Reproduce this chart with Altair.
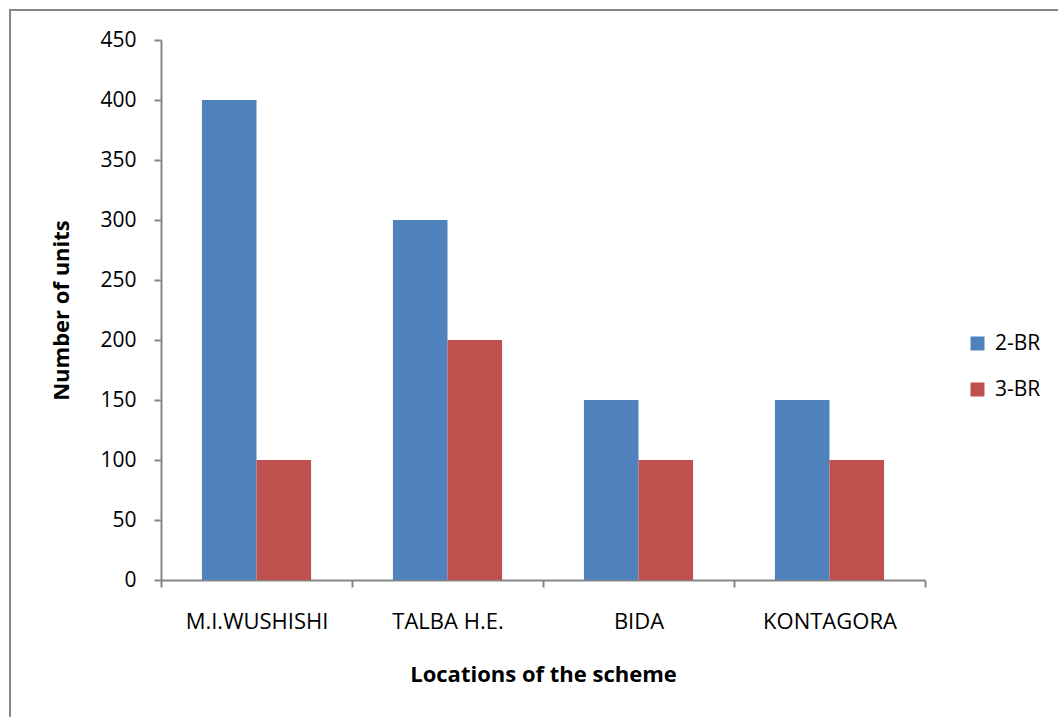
import altair as alt
import pandas as pd

locations = ["M.I.WUSHISHI", "TALBA H.E.", "BIDA", "KONTAGORA"]
series = ["2-BR", "3-BR"]
two_br = [400, 300, 150, 150]
three_br = [100, 200, 100, 100]
y_ticks = [0, 50, 100, 150, 200, 250, 300, 350, 400, 450]
colors = ["#4F81BD", "#C0504D"]

rows = []
for loc, a, b in zip(locations, two_br, three_br):
    rows.append({"Location": loc, "Type": series[0], "Units": a})
    rows.append({"Location": loc, "Type": series[1], "Units": b})
df = pd.DataFrame(rows)

W, H = 764, 540
FONT = "Open Sans"
GRAY = "#868686"

bars = alt.Chart(df).mark_bar().encode(
    x=alt.X("Location:N", sort=locations,
            scale=alt.Scale(paddingInner=0, paddingOuter=0),
            axis=alt.Axis(title="Locations of the scheme", labelAngle=0,
                          tickBand="extent", tickSize=7, tickColor=GRAY,
                          domainColor=GRAY, tickWidth=2, domainWidth=2,
                          labelFontSize=22, titleFontSize=22,
                          labelPadding=24, titlePadding=32)),
    xOffset=alt.XOffset("Type:N", sort=series,
                        scale=alt.Scale(paddingInner=0, paddingOuter=0.75)),
    y=alt.Y("Units:Q", scale=alt.Scale(domain=[0, 450], nice=False),
            axis=alt.Axis(title="Number of units", values=y_ticks, grid=False,
                          tickSize=7, tickColor=GRAY, domainColor=GRAY,
                          tickWidth=2, domainWidth=2, labelPadding=18,
                          labelFontSize=21, titleFontSize=22,
                          titlePadding=26)),
    color=alt.Color("Type:N", sort=series,
                    scale=alt.Scale(domain=series, range=colors),
                    legend=alt.Legend(title=None, orient="none", legendX=806,
                                      legendY=293, symbolType="square",
                                      symbolSize=196, symbolStrokeWidth=0,
                                      rowPadding=24, labelOffset=7)),
)

frame = alt.Chart(alt.Data(values=[{}])).mark_rect(
    fill=None, stroke=GRAY, strokeWidth=2
).encode(
    x=alt.value(-151), x2=alt.value(W + 200),
    y=alt.value(-30), y2=alt.value(H + 200),
)

chart = alt.layer(frame, bars).properties(
    width=W, height=H,
    autosize=alt.AutoSizeParams(type="none"),
    padding={"left": 161, "top": 40, "right": 133, "bottom": 137},
).configure_view(stroke=None).configure_axis(
    labelFont=FONT, labelColor="#000000",
    titleFont=FONT, titleFontWeight="bold", titleColor="#000000",
).configure_legend(
    labelFont=FONT, labelFontSize=21, labelColor="#000000",
)

chart.save("out.html", embed_options={"renderer": "svg", "actions": False})
